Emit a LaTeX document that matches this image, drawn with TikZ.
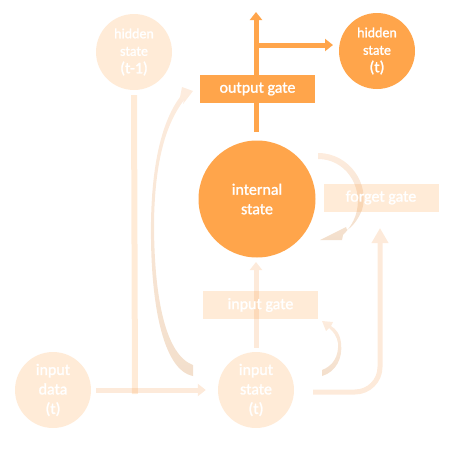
\documentclass[tikz,border=0pt]{standalone}
\usepackage{fontspec}
\setmainfont{Carlito}[FakeBold=1.3]
\usetikzlibrary{arrows.meta}
\definecolor{orng}{RGB}{255,165,75}
\definecolor{lght}{RGB}{253,234,218}
\definecolor{beigeA}{RGB}{253,236,222}
\definecolor{beigeB}{RGB}{243,223,204}
\tikzset{
  ocirc/.style={circle, fill=orng, minimum size=#1, inner sep=0pt, text=white, align=center},
  lcirc/.style={circle, fill=orng, fill opacity=0.22, text opacity=1, minimum size=#1, inner sep=0pt, text=white, align=center},
  obox/.style={rectangle, fill=orng, minimum width=115pt, minimum height=28pt, inner sep=0pt, text=white, font=\fontsize{16}{19}\selectfont},
  lbox/.style={rectangle, fill=orng, fill opacity=0.22, text opacity=1, minimum width=115pt, minimum height=28pt, inner sep=0pt, text=white, font=\fontsize{16}{19}\selectfont},
  oarrow/.style={draw=orng, line width=5pt, -{Triangle[width=12pt,length=8pt]}},
  larrow/.style={draw=lght, line width=5pt, -{Triangle[width=12pt,length=8pt]}},
  hfont/.style={font=\fontsize{14}{17.5}\selectfont},
  bfont/.style={font=\fontsize{16}{19.5}\selectfont}
}
\begin{document}
\begin{tikzpicture}[x=1pt,y=-1pt]
\useasboundingbox (0,0) rectangle (450,450);

% circles
\node[lcirc=76pt, hfont] (ht1) at (134,52) {hidden\\state\\{\fontsize{16}{19}\selectfont (t-1)}};
\node[ocirc=76pt, hfont] (ht) at (377,51) {hidden\\state\\{\fontsize{16}{19}\selectfont (t)}};
\node[ocirc=117pt, bfont] (int) at (257,199) {internal\\state};
\node[lcirc=76pt, bfont] (id) at (53,390) {input\\data\\(t)};
\node[lcirc=76pt, bfont] (is) at (256,390) {input\\state\\(t)};

% coordinates for free ends
\coordinate (otop) at (256,12);
\coordinate (obr) at (256,45);
\coordinate (oright) at (333,45);
\coordinate (obot) at (256,132);
\coordinate (ivtop) at (256,262);
\coordinate (ivbot) at (256,348);
\coordinate (lstart) at (313,392);
\coordinate (lcorner) at (380,392);
\coordinate (ltop) at (380,228);
\coordinate (hjoin) at (135,394);

% input data -> input state
\draw[larrow, shorten <=5pt, shorten >=12pt] (id) -- (is);
% hidden t-1 down line (overlapping)
\draw[draw=orng, draw opacity=0.22, line width=6pt] ([yshift=-5pt]ht1.south) -- (hjoin);

% input state -> internal state vertical
\draw[larrow] (ivbot) -- (ivtop);
% L-shaped arrow to forget gate
\draw[draw=lght, line width=5pt, rounded corners=25pt, -{Triangle[width=16pt,length=15pt]}] (lstart) -- (lcorner) -- (ltop);

% orange output arrows
\draw[oarrow] (obot) -- (otop);
\draw[oarrow, line cap=butt] (obr) -- (oright);

% big crescent: input state -> output gate
\shade[top color=beigeA, bottom color=beigeB]
  (193,376) .. controls (162,370) and (150,300) .. (151,222)
  .. controls (152,160) and (163,120) .. (180,97)
  -- (182,87) -- (193,91) -- (183,104) -- (184,100)
  .. controls (166,124) and (155,160) .. (154,222)
  .. controls (154,300) and (166,355) .. (193,365) -- cycle;

% forget crescent
\shade[top color=beigeA, bottom color=beigeB]
  (318,153) .. controls (350,153) and (370,185) .. (362,210)
  .. controls (358,220) and (352,227) .. (347,230)
  -- (346,227) -- (320,240) -- (342,240) -- (343,235)
  .. controls (350,228) and (355,220) .. (357,210)
  .. controls (362,185) and (345,159) .. (318,159) -- cycle;

% small crescent near input gate
\shade[top color=beigeA, bottom color=beigeB]
  (322,376) .. controls (336,372) and (343,358) .. (341,343)
  .. controls (340,334) and (336,329) .. (331,326)
  -- (333,322) -- (322,321) -- (326,331) -- (329,328)
  .. controls (334,332) and (337,337) .. (338,343)
  .. controls (339,356) and (333,366) .. (322,370) -- cycle;

% gates (drawn over the connectors)
\node[obox] (og) at (257.5,89) {output gate};
\node[lbox] (fg) at (381,197.5) {forget gate};
\node[lbox] (ig) at (260.5,305) {input gate};
\end{tikzpicture}
\end{document}
